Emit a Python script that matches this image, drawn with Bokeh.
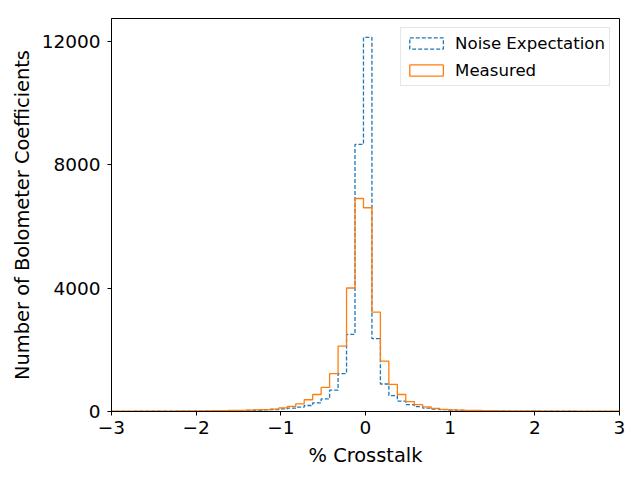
import numpy as np
from bokeh.plotting import figure
from bokeh.models import Range1d, FixedTicker, Legend, LegendItem
from bokeh.embed import file_html
from bokeh.resources import INLINE

# Histogram binning (left edge of first bin, bin width)
bin_start = -3.024
bin_width = 0.1

# Counts per bin (61 bins, left to right)
noise_counts = [6, 7, 7, 8, 8, 9, 10, 11, 12, 13,
                14, 16, 18, 21, 24, 28, 33, 40, 50, 65,
                85, 110, 140, 195, 280, 410, 690, 1230, 2500, 8650,
                12120, 2360, 890, 515, 335, 220, 155, 110, 80, 60,
                46, 37, 30, 25, 21, 18, 16, 14, 13, 12,
                11, 10, 9, 8, 8, 7, 7, 6, 6, 5, 5]
measured_counts = [9, 10, 10, 11, 12, 13, 14, 15, 16, 18,
                   20, 22, 25, 28, 32, 36, 42, 50, 60, 80,
                   115, 165, 250, 380, 550, 780, 1230, 2120, 4000, 6900,
                   6600, 3220, 1630, 880, 550, 320, 220, 150, 100, 72,
                   55, 45, 38, 33, 29, 26, 23, 21, 19, 17,
                   16, 15, 14, 13, 12, 11, 10, 10, 9, 9, 8]

x_ticks = [-3, -2, -1, 0, 1, 2, 3]
y_ticks = [0, 4000, 8000, 12000]

edges = bin_start + bin_width * np.arange(len(noise_counts) + 1)


def step_outline(counts):
    xs = [edges[0]]
    ys = [0]
    for i, c in enumerate(counts):
        xs += [edges[i], edges[i + 1]]
        ys += [c, c]
    xs.append(edges[-1])
    ys.append(0)
    return xs, ys


BLUE = "#1f77b4"
ORANGE = "#ff7f0e"
FONT = "DejaVu Sans"
LW = 1.3

p = figure(width=632, height=472, output_backend="svg", toolbar_location=None,
           x_range=Range1d(-3, 3), y_range=Range1d(0, 12730),
           min_border_left=111, min_border_right=13, min_border_top=18, min_border_bottom=61)

p.background_fill_color = "white"
p.border_fill_color = "white"
p.outline_line_color = "black"
p.outline_line_width = 1
p.outline_line_alpha = 1
p.grid.visible = False

nx, ny = step_outline(noise_counts)
mx, my = step_outline(measured_counts)
p.line(nx, ny, line_color=BLUE, line_width=LW, line_dash="4 2")
p.line(mx, my, line_color=ORANGE, line_width=LW)

# legend proxies (rectangular patches, no visible data)
nan = float("nan")
r_noise = p.quad(left=[nan], right=[nan], top=[nan], bottom=[nan], fill_alpha=0,
                 line_color=BLUE, line_width=LW, line_dash="4 2")
r_meas = p.quad(left=[nan], right=[nan], top=[nan], bottom=[nan], fill_alpha=0,
                line_color=ORANGE, line_width=LW)

p.xaxis.ticker = FixedTicker(ticks=x_ticks)
p.xaxis.major_label_overrides = {t: (str(t).replace("-", "\u2212")) for t in x_ticks}
p.yaxis.ticker = FixedTicker(ticks=y_ticks)

for ax in (p.xaxis, p.yaxis):
    ax.minor_tick_line_color = None
    ax.major_tick_out = 4
    ax.major_tick_in = 0
    ax.major_tick_line_color = "black"
    ax.axis_line_color = "black"
    ax.major_label_text_font = FONT
    ax.major_label_text_font_size = "18.5px"
    ax.major_label_text_color = "black"
    ax.axis_label_text_font = FONT
    ax.axis_label_text_font_size = "19.4px"
    ax.axis_label_text_font_style = "normal"
    ax.axis_label_text_color = "black"

p.xaxis.major_label_standoff = 5
p.yaxis.major_label_standoff = 7
p.xaxis.axis_label = "% Crosstalk"
p.yaxis.axis_label = "Number of Bolometer Coefficients"
p.xaxis.axis_label_standoff = 7
p.yaxis.axis_label_standoff = 5

legend = Legend(items=[LegendItem(label="Noise Expectation", renderers=[r_noise]),
                       LegendItem(label="Measured", renderers=[r_meas])],
                location="top_right")
legend.margin = 9
legend.padding = 4
legend.spacing = 5
legend.glyph_width = 42
legend.glyph_height = 14
legend.label_height = 22
legend.label_standoff = 8
legend.label_text_font = FONT
legend.label_text_font_size = "16.6px"
legend.label_text_color = "black"
legend.border_line_color = "#cccccc"
legend.border_line_width = 1
legend.background_fill_alpha = 0.8
p.add_layout(legend)

open("out.html", "w").write(file_html(p, INLINE))
